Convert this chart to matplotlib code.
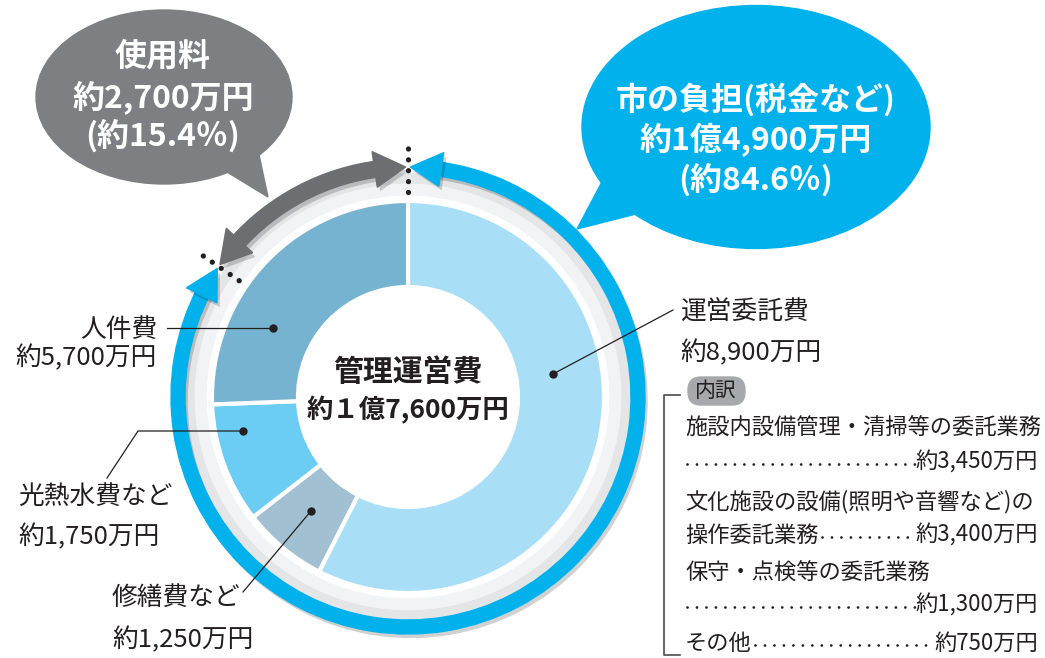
import numpy as np
import matplotlib
matplotlib.use('Agg')
import matplotlib.pyplot as plt
import matplotlib.patheffects as pe
from matplotlib.patches import Wedge, Ellipse, Polygon, FancyBboxPatch

plt.rcParams['font.family'] = ['Noto Sans CJK JP', 'DejaVu Sans']

# --- data ---
total_label = '管理運営費'
total_value = '約１億7,600万円'

categories = ['運営委託費', '修繕費など', '光熱水費など', '人件費']
amount_labels = ['約8,900万円', '約1,250万円', '約1,750万円', '約5,700万円']
# share of the ring as drawn in the original (%), not the exact ratio of amounts
drawn_share = [57.5, 7.0, 9.9, 25.6]
colors = ['#a9def7', '#a1c1d2', '#6bcdf3', '#76b3d0']

fee_pct = 15.4       # 使用料
city_pct = 84.6      # 市の負担
fee_lines = ['使用料', '約2,700万円', '(約15.4％)']
city_lines = ['市の負担(税金など)', '約1億4,900万円', '(約84.6％)']

breakdown_names = ['施設内設備管理・清掃等の委託業務', '',
                   '文化施設の設備(照明や音響など)の', '操作委託業務',
                   '保守・点検等の委託業務', '', 'その他']
breakdown_amounts = [None, '約3,450万円', None, '約3,400万円',
                     None, '約1,300万円', '約750万円']

H = 658
TXT = '#231f20'
BLUE = '#00b1ec'
GRAY = '#6d6e72'


def Y(y):
    return H - y


fig = plt.figure(figsize=(10.45, 6.58), dpi=100)
ax = fig.add_axes([0, 0, 1, 1])

cx, cy = 408, Y(397)
R, r_in = 196, 110

# soft ring behind the donut
ax.add_patch(Wedge((cx, cy), 223, 0, 360, width=21, color='#f2f3f4', zorder=0))
ax.add_patch(Wedge((cx, cy), 223, 0, 360, width=9, color='#e4e5e7', zorder=0))

ax.pie(drawn_share, colors=colors, startangle=90, counterclock=False,
       center=(cx, cy), radius=R,
       wedgeprops=dict(width=R - r_in, edgecolor='white', linewidth=3))

# arrows around the ring
split = 90 + 360 * fee_pct / (fee_pct + city_pct)
r_mid, gap = 230, 0.6
head_len = np.degrees(31 / r_mid)
shadow = [pe.SimplePatchShadow(offset=(2, -3), shadow_rgbFace='#000000', alpha=0.18), pe.Normal()]


def pt(theta, r):
    t = np.radians(theta)
    return (cx + r * np.cos(t), cy + r * np.sin(t))


def ring_arrow(t1, t2, color, body_w, head_w):
    body = Wedge((cx, cy), r_mid + body_w / 2, t1 + head_len * 0.8, t2 - head_len * 0.8,
                 width=body_w, color=color, zorder=3)
    body.set_path_effects(shadow)
    ax.add_patch(body)
    for tip, base in ((t1, t1 + head_len), (t2, t2 - head_len)):
        head = Polygon([pt(tip, r_mid), pt(base, r_mid + head_w / 2),
                        pt(base, r_mid - head_w / 2)], closed=True, color=color, zorder=3)
        head.set_path_effects(shadow)
        ax.add_patch(head)


ring_arrow(90 + gap, split - gap, GRAY, 16, 36)
ring_arrow(split + gap, 450 - gap, BLUE, 14, 34)

for theta in (90, split):
    p0, p1 = pt(theta, 205), pt(theta, 253)
    ax.plot([p0[0], p1[0]], [p0[1], p1[1]], color=TXT, lw=3.8,
            linestyle=(0, (0.01, 2.05)), dash_capstyle='round', zorder=4)

# speech bubbles
ax.add_patch(Ellipse((164, Y(97)), 256, 174, color='#7e7f83', zorder=2))
ax.add_patch(Polygon([(227, Y(172)), (268, Y(197)), (258, Y(150))], color='#7e7f83', zorder=2))
ax.add_patch(Ellipse((756, Y(127)), 348, 243, color=BLUE, zorder=2))
ax.add_patch(Polygon([(604, Y(178)), (577, Y(229)), (636, Y(214))], color=BLUE, zorder=2))

for s, y in zip(fee_lines, (56, 97, 136)):
    ax.text(163, Y(y), s, color='white', fontsize=23, fontweight='bold',
            ha='center', va='center', zorder=5)
for s, y in zip(city_lines, (100, 140, 180)):
    ax.text(756, Y(y), s, color='white', fontsize=23, fontweight='bold',
            ha='center', va='center', zorder=5)

# centre
ax.text(cx, Y(372), total_label, color=TXT, fontsize=21.5, fontweight='bold',
        ha='center', va='center', zorder=5)
ax.text(cx, Y(410), total_value, color=TXT, fontsize=19, fontweight='bold',
        ha='center', va='center', zorder=5)

# segment labels: (x, ha, y_name, y_value)
label_pos = {
    '運営委託費': (680, 'left', 313, 353),
    '修繕費など': (112, 'left', 598, 640),
    '光熱水費など': (18, 'left', 497, 537),
    '人件費': (157, 'right', 330, 358),
}
for name, val in zip(categories, amount_labels):
    x, ha, y1, y2 = label_pos[name]
    ax.text(x, Y(y1), name, color=TXT, fontsize=18.5, ha=ha, va='center')
    ax.text(x, Y(y2), val, color=TXT, fontsize=18.5, ha=ha, va='center')

leaders = [
    [(673, 310), (553, 374)],
    [(243, 592), (311, 511)],
    [(107, 478), (138, 431), (243, 431)],
    [(167, 328), (273, 328)],
]
for line in leaders:
    xs = [p[0] for p in line]
    ys = [Y(p[1]) for p in line]
    ax.plot(xs, ys, color=TXT, lw=0.9, zorder=5)
    ax.plot(xs[-1], ys[-1], 'o', color=TXT, ms=5, zorder=5)

# breakdown of 運営委託費
ax.add_patch(FancyBboxPatch((688, Y(405)), 57, 28,
                            boxstyle='round,pad=0,rounding_size=13',
                            color='#a6a8ab', zorder=2))
ax.text(716, Y(391), '内訳', color=TXT, fontsize=15, ha='center', va='center', zorder=5)
ax.plot([680, 664, 664, 680], [Y(395), Y(395), Y(655), Y(655)], color='#4d4d4f', lw=1.2)

ax.set_xlim(0, 1045)
ax.set_ylim(0, H)
ax.set_aspect('equal')
ax.axis('off')

renderer = fig.canvas.get_renderer()
inv = ax.transData.inverted()
for name, amt, y in zip(breakdown_names, breakdown_amounts,
                        (428, 462, 502, 535, 573, 605, 643)):
    t = ax.text(685, Y(y), name, color=TXT, fontsize=16, ha='left', va='center')
    if amt is None:
        continue
    a = ax.text(1038, Y(y), amt, color=TXT, fontsize=16, ha='right', va='center')
    x0 = 687
    if name:
        x0 = inv.transform(t.get_window_extent(renderer).get_points())[1, 0] + 3
    x1 = inv.transform(a.get_window_extent(renderer).get_points())[0, 0] - 1
    ax.plot([x0, x1], [Y(y) - 2, Y(y) - 2], color=TXT, lw=2.0,
            linestyle=(0, (0.01, 3.4)), dash_capstyle='round')

fig.savefig('out.png', dpi=100)
